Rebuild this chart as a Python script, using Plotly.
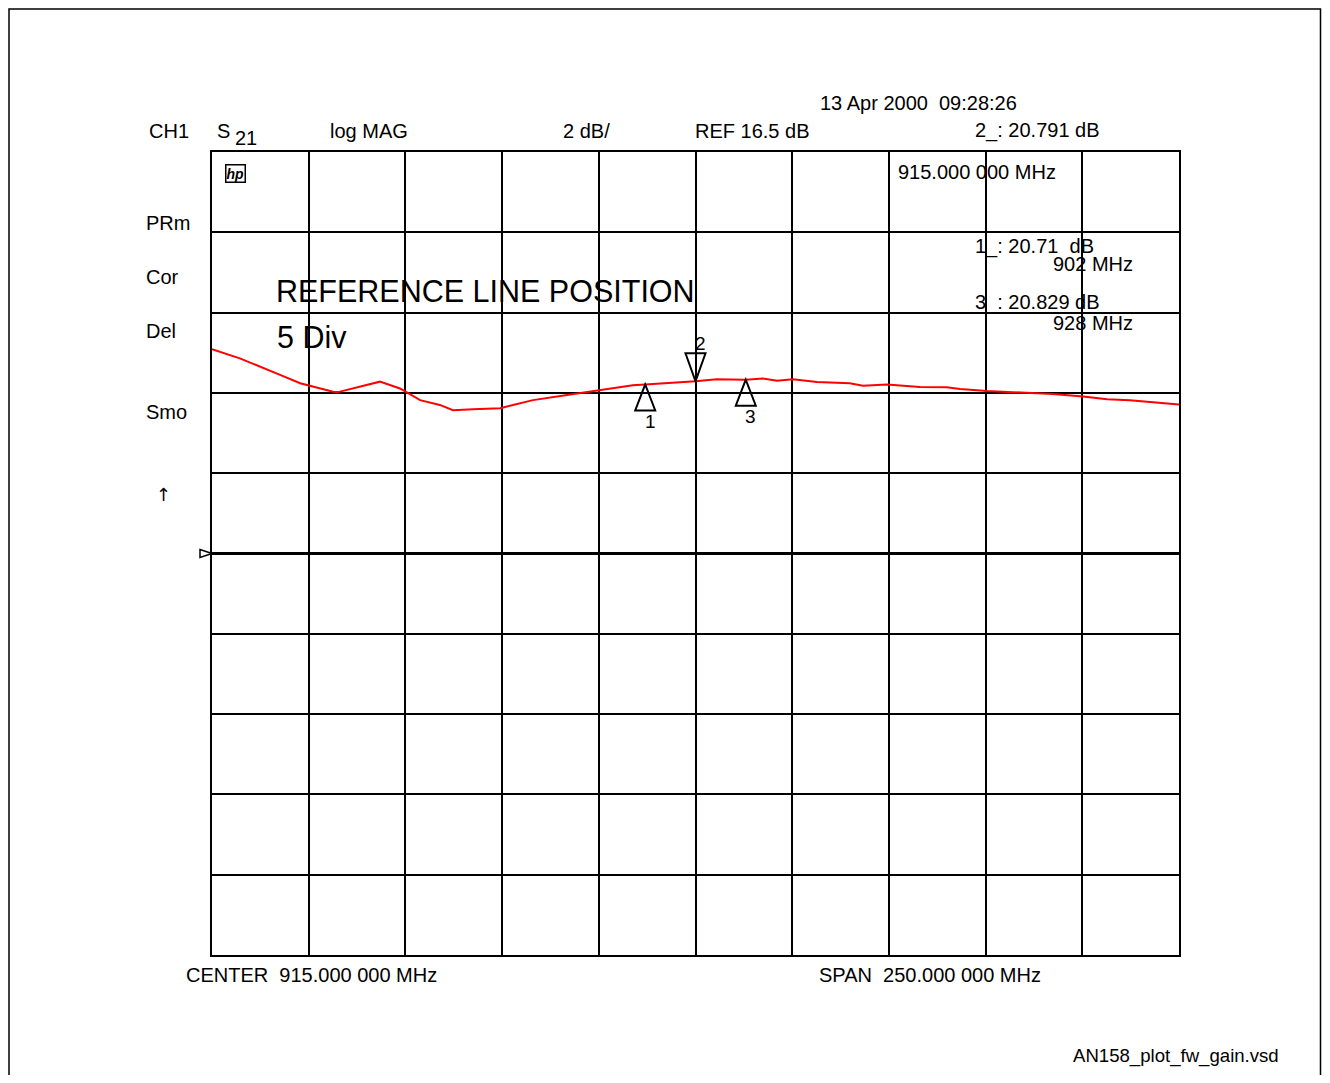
import plotly.graph_objects as go

# ---- data ----
freq_mhz = [790.0, 797.2, 807.6, 812.8, 815.3, 821.3, 822.6, 828.3, 833.4, 838.6,
            840.3, 843.8, 848.9, 852.3, 857.5, 864.5, 867.8, 873.0, 881.8, 890.3,
            898.8, 902.0, 907.6, 914.4, 915.0, 920.5, 928.0, 932.4, 936.1, 940.2,
            946.4, 954.9, 958.3, 964.5, 973.0, 980.0, 983.4, 990.4, 998.9, 1007.4,
            1015.2, 1021.4, 1027.3, 1029.9, 1039.5, 1040.0]
gain_db = [21.59, 21.36, 20.95, 20.74, 20.68, 20.53, 20.52, 20.65, 20.78, 20.61,
           20.52, 20.32, 20.20, 20.07, 20.09, 20.12, 20.20, 20.32, 20.45, 20.57,
           20.69, 20.71, 20.74, 20.79, 20.791, 20.84, 20.829, 20.86, 20.80, 20.84,
           20.77, 20.74, 20.68, 20.71, 20.65, 20.64, 20.60, 20.55, 20.51, 20.47,
           20.41, 20.34, 20.32, 20.30, 20.22, 20.21]

marker_ids = ["1", "2", "3"]
marker_freq = [902.0, 915.0, 928.0]
marker_db = [20.71, 20.791, 20.829]

center_mhz = 915.0
span_mhz = 250.0
ref_db = 16.5
db_per_div = 2.0
ref_div = 5
n_div = 10

x_lo = center_mhz - span_mhz / 2
x_hi = center_mhz + span_mhz / 2
y_top = ref_db + (n_div - ref_div) * db_per_div
y_bot = ref_db - ref_div * db_per_div

# ---- layout geometry (pixels, in page coordinates) ----
OFF = 8  # page body margin
W, H = 1330 - 2 * OFF, 1083 - 2 * OFF
L, R, T, B = 212, 1179, 152, 955
pw, ph = R - L, B - T

def px(x):
    return (x - L) / pw

def py(y):
    return (B - y) / ph

FONT = "Liberation Sans, Arial, sans-serif"
FS = 20

fig = go.Figure()
fig.add_trace(go.Scatter(x=freq_mhz, y=gain_db, mode="lines",
                         line=dict(color="#ff0000", width=2), hoverinfo="skip",
                         showlegend=False))

shapes = []
annotations = []

# reference line
shapes.append(dict(type="line", xref="paper", yref="y", x0=0, x1=1, y0=ref_db, y1=ref_db,
                   line=dict(color="black", width=3), layer="above"))
# reference marker (small right-pointing triangle left of the grid)
shapes.append(dict(type="path", xref="paper", yref="y", xsizemode="pixel", ysizemode="pixel",
                   xanchor=0, yanchor=ref_db, path="M-12,4 L0,0 L-12,-4 Z",
                   line=dict(color="black", width=1.5), fillcolor="white", layer="above"))
# outer border (clamped to the figure area)
shapes.append(dict(type="rect", xref="paper", yref="paper",
                   x0=px(OFF + 1), x1=px(OFF + W - 1.5), y0=py(1100), y1=py(OFF + 1),
                   line=dict(color="black", width=1.5), layer="above"))

# marker triangles and labels
for mid, f, v in zip(marker_ids, marker_freq, marker_db):
    if mid == "2":
        path = "M0,0 L-10,28 L10,28 Z"
        ys = 38
    else:
        path = "M0,0 L-10,-26 L10,-26 Z"
        ys = -37
    shapes.append(dict(type="path", xref="x", yref="y", xsizemode="pixel", ysizemode="pixel",
                       xanchor=f, yanchor=v, path=path,
                       line=dict(color="black", width=2), layer="above"))
    annotations.append(dict(x=f, y=v, xref="x", yref="y", text=mid, showarrow=False,
                            xshift=5, yshift=ys, font=dict(family=FONT, size=FS - 1, color="black")))

def txt(x, y, s, size=FS, family=FONT):
    annotations.append(dict(x=px(x), y=py(y), xref="paper", yref="paper", text=s,
                            showarrow=False, xanchor="left", yanchor="middle",
                            font=dict(family=family, size=size, color="black")))

txt(818, 103, "13 Apr 2000&nbsp;&nbsp;09:28:26")
txt(147, 131, "CH1")
txt(215, 131, "S")
txt(233, 138, "21")
txt(328, 131, "log MAG")
txt(561, 131, "2 dB/")
txt(693, 131, "REF 16.5 dB")
txt(973, 131, "2_: 20.791 dB")
txt(896, 172, "915.000 000 MHz")
txt(973, 246, "1_: 20.71&nbsp;&nbsp;dB")
txt(1051, 264, "902 MHz")
txt(973, 302, "3&nbsp;&nbsp;: 20.829 dB")
txt(1051, 323, "928 MHz")
txt(144, 223, "PRm")
txt(144, 277, "Cor")
txt(144, 331, "Del")
txt(144, 412, "Smo")
txt(154, 494, "↑", size=18, family="DejaVu Sans")
txt(274, 291, "REFERENCE LINE POSITION", size=30.5)
txt(275, 337, "5 Div", size=30.5)
txt(184, 975, "CENTER&nbsp;&nbsp;915.000 000 MHz")
txt(817, 975, "SPAN&nbsp;&nbsp;250.000 000 MHz")
txt(1071, 1056, "AN158_plot_fw_gain.vsd", size=18.6)
annotations.append(dict(x=px(225), y=py(173), xref="paper", yref="paper",
                        text="<b><i>hp</i></b>", showarrow=False, xanchor="left", yanchor="middle",
                        bordercolor="black", borderwidth=1.5, borderpad=0,
                        font=dict(family=FONT, size=14, color="black")))

fig.update_layout(
    width=W, height=H,
    margin=dict(l=L - OFF, r=(W + OFF) - R, t=T - OFF, b=(H + OFF) - B),
    paper_bgcolor="white", plot_bgcolor="white",
    showlegend=False,
    shapes=shapes, annotations=annotations,
    xaxis=dict(range=[x_lo, x_hi], tick0=x_lo, dtick=span_mhz / n_div,
               showgrid=True, gridcolor="black", gridwidth=1.6,
               showline=True, mirror=True, linecolor="black", linewidth=2,
               showticklabels=False, ticks="", zeroline=False, fixedrange=True),
    yaxis=dict(range=[y_bot, y_top], tick0=y_bot, dtick=db_per_div,
               showgrid=True, gridcolor="black", gridwidth=1.6,
               showline=True, mirror=True, linecolor="black", linewidth=2,
               showticklabels=False, ticks="", zeroline=False, fixedrange=True),
)

fig.write_html("out.html")
